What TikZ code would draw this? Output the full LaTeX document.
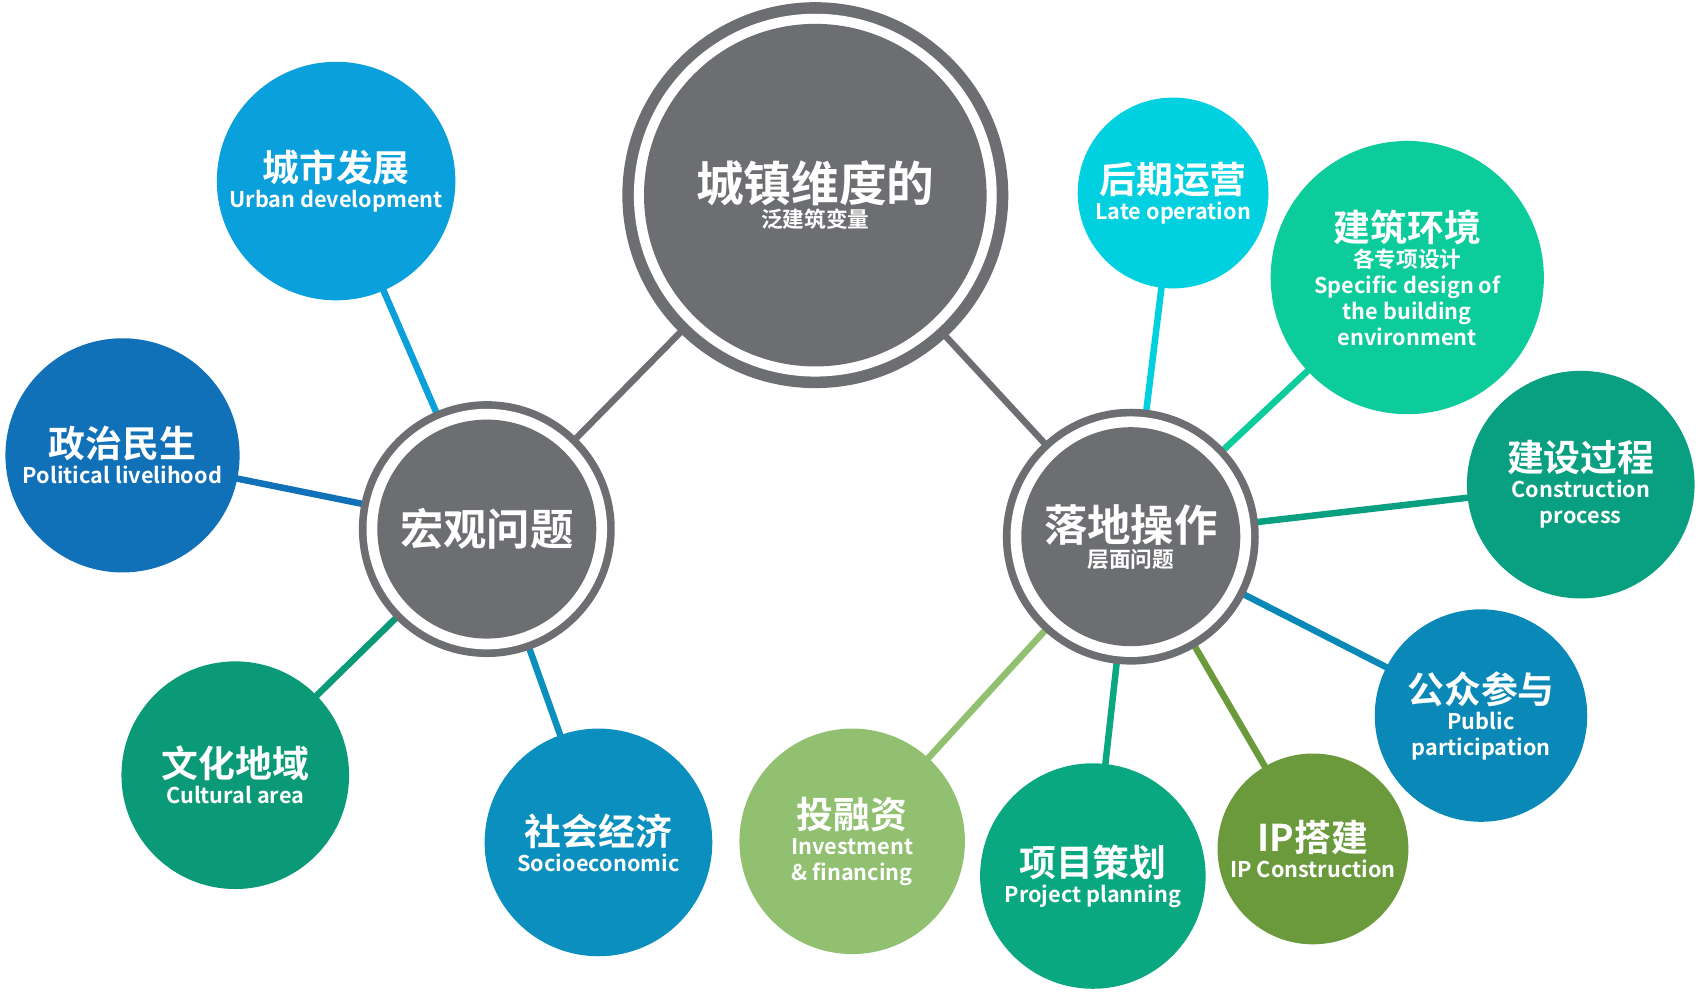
\documentclass[tikz,border=0pt]{standalone}
\usepackage{fontspec}
\setmainfont{Noto Sans CJK SC}[BoldFont={Noto Sans CJK SC Bold}]
\usetikzlibrary{backgrounds}
\definecolor{gr}{HTML}{6D6E72}
\definecolor{cA}{HTML}{0AA0DC}
\definecolor{cB}{HTML}{1070B8}
\definecolor{cC}{HTML}{0A9A78}
\definecolor{cD}{HTML}{0A8FBE}
\definecolor{cE}{HTML}{00D0E0}
\definecolor{cF}{HTML}{0CCC9C}
\definecolor{cG}{HTML}{08A080}
\definecolor{cH}{HTML}{0A88B8}
\definecolor{cI}{HTML}{6A9A3C}
\definecolor{cJ}{HTML}{0AA880}
\definecolor{cK}{HTML}{90C070}
\tikzset{
 ball/.style={circle,inner sep=0pt,text=white,align=center,font=\bfseries},
 zh/.style={font=\bfseries\fontsize{17}{20}\selectfont},
 link/.style={line width=3pt}
}
\newcommand{\en}[1]{{\fontsize{10}{17}\selectfont #1}}
\begin{document}
\begin{tikzpicture}[x=0.5pt,y=-0.5pt]
\useasboundingbox (0,0) rectangle (1568,921);
% hubs
\foreach \n/\x/\y/\r in {top/752/180/178,L/449/488/118,R/1043/495/118}{
  \fill[gr] (\x,\y) circle (\r);
  \fill[white] (\x,\y) circle (\r*0.94);
}
\node[ball,fill=gr,minimum size=158pt] (top) at (752,180) {\fontsize{22}{34}\selectfont 城镇维度的\\泛建筑变量};
\node[ball,fill=gr,minimum size=101pt] (L) at (449,488) {\fontsize{20}{30}\selectfont 宏观问题};
\node[ball,fill=gr,minimum size=101pt] (R) at (1043,495) {\fontsize{20}{32}\selectfont 落地操作\\层面问题};
% leaves
\node[ball,fill=cA,minimum size=110pt] (a) at (310,167) {\fontsize{17}{24}\selectfont 城市发展\\\en{Urban development}};
\node[ball,fill=cB,minimum size=108pt] (b) at (113,420) {\fontsize{17}{24}\selectfont 政治民生\\\en{Political livelihood}};
\node[ball,fill=cC,minimum size=105pt] (c) at (217,715) {\fontsize{17}{24}\selectfont 文化地域\\\en{Cultural area}};
\node[ball,fill=cD,minimum size=105pt] (d) at (552,777) {\fontsize{17}{24}\selectfont 社会经济\\\en{Socioeconomic}};
\node[ball,fill=cE,minimum size=88pt] (e) at (1082,178) {\fontsize{17}{24}\selectfont 后期运营\\\en{Late operation}};
\node[ball,fill=cF,minimum size=126pt] (f) at (1298,256) {\fontsize{17}{25}\selectfont 建筑环境\\各专项设计\\\en{Specific design of}\\\en{the building}\\\en{environment}};
\node[ball,fill=cG,minimum size=105pt] (g) at (1458,447) {\fontsize{17}{22}\selectfont 建设过程\\\en{Construction}\\\en{process}};
\node[ball,fill=cH,minimum size=98pt] (h) at (1366,660) {\fontsize{17}{22}\selectfont 公众参与\\\en{Public}\\\en{participation}};
\node[ball,fill=cI,minimum size=88pt] (i) at (1211,783) {\fontsize{17}{24}\selectfont IP搭建\\\en{IP Construction}};
\node[ball,fill=cJ,minimum size=104pt] (j) at (1008,808) {\fontsize{17}{24}\selectfont 项目策划\\\en{Project planning}};
\node[ball,fill=cK,minimum size=104pt] (k) at (786,776) {\fontsize{17}{22}\selectfont 投融资\\\en{Investment}\\\en{\& financing}};
\begin{pgfonlayer}{background}
\draw[link,gr] (top.center) -- (L.center);
\draw[link,gr] (top.center) -- (R.center);
\foreach \t/\c in {a/cA,b/cB,c/cC,d/cD}{\draw[link,\c] (L.center) -- (\t.center);}
\foreach \t/\c in {e/cE,f/cF,g/cG,h/cH,i/cI,j/cJ,k/cK}{\draw[link,\c] (R.center) -- (\t.center);}
\end{pgfonlayer}
\end{tikzpicture}
\end{document}
